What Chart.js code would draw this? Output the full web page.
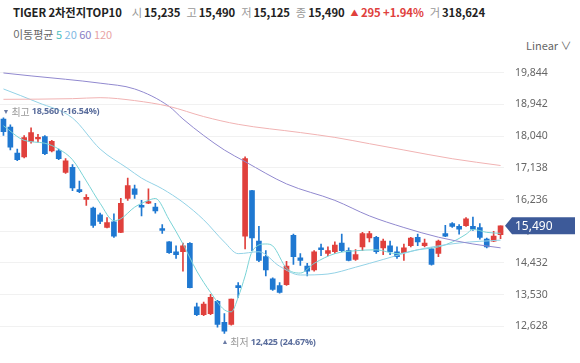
<!DOCTYPE html>
<html>
<head>
<meta charset="utf-8">
<script src="https://cdn.jsdelivr.net/npm/chart.js@4.4.1/dist/chart.umd.min.js"></script>
<style>
  body { margin: 0; background: #fff; font-family: "Noto Sans CJK KR", "Noto Sans", sans-serif; }
  #wrap { position: relative; width: 580px; height: 363px; overflow: hidden; }
  #head { position: absolute; left: 13px; top: 4px; font-size: 11.3px; white-space: nowrap; color: #222; letter-spacing: -0.1px; }
  #head b { font-weight: 700; }
  #head .k { color: #999; font-weight: 400; margin: 0 2px 0 6px; }
  #head .k.first { margin-left: 10px; }
  #head .up { color: #e0403c; font-weight: 700; margin-left: 6px; }
  #head .tri { font-size: 8px; position: relative; top: -1px; }
  #ma { position: absolute; left: 13px; top: 26px; font-size: 11px; color: #666; white-space: nowrap; }
  #lin { position: absolute; left: 526px; top: 37px; font-size: 11px; color: #666; }
  canvas { position: absolute; left: 0; top: 0; }
</style>
</head>
<body>
<div id="wrap">
  <div id="head"><b>TIGER 2차전지TOP10</b><span class="k first">시</span><b>15,235</b><span class="k">고</span><b>15,490</b><span class="k">저</span><b>15,125</b><span class="k">종</span><b>15,490</b><span class="up"><span class="tri">▲</span> 295 +1.94%</span><span class="k">거</span><b>318,624</b></div>
  <div id="ma">이동평균 <span style="color:#4dbfbf">5</span> <span style="color:#7fb9e3">20</span> <span style="color:#8a80c6">60</span> <span style="color:#e9a3a3">120</span></div>
  <div id="lin">Linear &#8744;</div>
  <canvas id="myChart" width="580" height="363"></canvas>
</div>
<script>
// daily candles, oldest first
const opens = [18530,18300,17560,17450,17890,17960,18030,17620,17620,17010,
  17150,16520,16240,15990,15800,15440,15600,15300,16270,16540,
  16070,16130,16020,15410,15030,14750,14750,14990,13180,12960,
  12990,13340,12740,12680,13790,15190,16490,15050,14610,13980,
  13790,13810,15220,14580,14340,14230,14860,14700,14750,15000,
  14780,14530,14890,15140,15160,14860,14920,14750,14720,14920,
  15160,14920,14830,14700,15270,15550,15470,15490,15470,15440,
  15110,15050,15235];
const highs = [18560,18360,17670,18060,18280,18090,18060,17920,17670,17400,
  17230,16760,16380,16020,15850,15720,15830,16270,16850,16650,
  16210,16540,16130,15520,15040,14920,15000,15010,13290,13320,
  13540,13370,12990,13400,13870,17450,16500,15470,14780,14010,
  13870,14480,15250,14700,14420,14780,14970,14890,15030,15250,
  14860,14810,15300,15330,15190,15110,15050,14890,14970,15160,
  15250,15110,14860,15080,15500,15580,15520,15720,15740,15550,
  15140,15330,15490];
const lows = [18060,17650,17340,17420,17840,17870,17510,17590,17370,16980,
  16490,16430,16070,15440,15550,15430,15160,15290,16210,16270,
  15770,16120,15850,15270,14700,14560,14200,13720,12930,12930,
  12960,12600,12425,12660,13450,14830,14780,14470,14060,13650,
  13570,13790,14390,14360,14060,14200,14640,14640,14700,14750,
  14490,14500,14780,15030,14700,14670,14670,14560,14500,14890,
  14920,14890,14370,14610,15180,15440,15250,15470,15360,15110,
  14860,15040,15125];
const closes = [18170,17730,17370,18000,18140,18010,17540,17890,17400,17340,
  16570,16460,16300,15500,15610,15580,15190,16130,16630,16380,
  16020,16180,15910,15360,14720,14670,14920,13730,12960,13260,
  13450,12680,12490,13400,13730,17400,15140,14500,14230,13680,
  13590,14340,14610,14500,14200,14750,14810,14780,14940,14780,
  14500,14670,15270,15270,14750,15050,14750,14610,14860,15140,
  15030,15000,14390,15050,15190,15470,15390,15690,15390,15160,
  14890,15195,15490];

// moving averages as [candle index, value]
const ma5 = [[0,18336],[3,17922],[6,17839],[8,17674],[10,17370],[12,16764],[14,16129],
  [16,15633],[17,15688],[19,16019],[21,16212],[22,16267],[24,15660],[26,14971],[28,14199],
  [30,13592],[32,13096],[33,13040],[34,13454],[35,14061],[36,14750],[38,14971],[39,14916],
  [41,14281],[43,14143],[45,14419],[48,14695],[51,14778],[54,14805],[57,14695],[60,14805],
  [63,14888],[65,15026],[67,15247],[68,15385],[70,15302],[72,15274]];
const ma20 = [[0,19384],[5,18998],[10,18557],[14,17674],[18,17122],[20,16847],[23,16543],
  [26,16157],[29,15660],[32,15026],[34,14695],[37,14750],[40,14337],[43,14088],[47,14116],
  [51,14309],[55,14530],[60,14805],[66,14999],[72,15081]];
const ma60 = [[0,19839],[4,19756],[9,19660],[14,19549],[19,19384],[24,18887],[26,18529],
  [29,18060],[32,17646],[35,17315],[41,16681],[48,16212],[53,15771],[58,15440],[63,15164],
  [68,14971],[72,14861]];
const ma120 = [[0,19089],[5,19094],[10,19108],[14,19136],[19,19053],[24,18887],[29,18598],
  [34,18377],[43,18143],[48,18005],[53,17826],[58,17646],[65,17398],[72,17205]];

const yTicks = [12628,13530,14432,15334,16236,17138,18040,18942,19844];

const UP = "#e0403c", DOWN = "#1f78d1";
const labels = closes.map((c, i) => String(i));
const colors = closes.map((c, i) => (c >= opens[i] ? UP : DOWN));

function spread(pairs) {
  const arr = new Array(closes.length).fill(null);
  pairs.forEach(p => { arr[p[0]] = p[1]; });
  return arr;
}
function maLine(pairs, color) {
  return {
    type: "line", data: spread(pairs), borderColor: color, borderWidth: 1,
    pointRadius: 0, spanGaps: true, cubicInterpolationMode: "monotone", order: 0
  };
}

const overlay = {
  id: "overlay",
  afterDraw(chart) {
    const c = chart.ctx, x = chart.scales.x, y = chart.scales.y;
    const last = closes[closes.length - 1];
    // high / low markers
    let hi = 0, lo = 0;
    highs.forEach((h, i) => { if (h > highs[hi]) hi = i; });
    lows.forEach((l, i) => { if (l < lows[lo]) lo = i; });
    const fmt = v => v.toLocaleString("en-US");
    const pct = v => ((last - v) / v * 100).toFixed(2) + "%";
    function mark(tri, word, val, px, py) {
      c.save();
      c.textBaseline = "middle";
      let cx = px;
      c.font = "7px 'Noto Sans'";
      c.fillStyle = "#6a7ba5";
      c.fillText(tri, cx, py);
      cx += c.measureText(tri).width + 2;
      c.font = "10px 'Noto Sans CJK KR'";
      c.fillStyle = "#999";
      c.fillText(word, cx, py);
      cx += c.measureText(word).width + 2;
      c.font = "bold 9px 'Noto Sans'";
      c.letterSpacing = "-0.2px";
      c.fillStyle = "#5a6d9c";
      c.fillText(fmt(val) + " (" + pct(val) + ")", cx, py);
      c.restore();
    }
    mark("▼", "최고", highs[hi], x.getPixelForValue(hi) - 1, y.getPixelForValue(highs[hi]) - 6);
    mark("▲", "최저", lows[lo], x.getPixelForValue(lo) - 3, y.getPixelForValue(lows[lo]) + 9);
    // last price tag
    const ty = y.getPixelForValue(last);
    const left = chart.chartArea.right + 1;
    c.save();
    c.fillStyle = "#3d5a99";
    c.beginPath();
    c.moveTo(left, ty);
    c.lineTo(left + 7, ty - 8.5);
    c.lineTo(575, ty - 8.5);
    c.lineTo(575, ty + 8.5);
    c.lineTo(left + 7, ty + 8.5);
    c.closePath();
    c.fill();
    c.fillStyle = "#fff";
    c.font = "12px 'Noto Sans'";
    c.textBaseline = "middle";
    c.fillText(fmt(last), left + 10, ty + 0.5);
    c.restore();
  }
};

new Chart(document.getElementById("myChart"), {
  type: "bar",
  data: {
    labels: labels,
    datasets: [
      maLine(ma120, "#f1b3b3"),
      maLine(ma60, "#9189cf"),
      maLine(ma20, "#93d2e6"),
      maLine(ma5, "#79d3d6"),
      {
        label: "wick", data: lows.map((l, i) => [l, highs[i]]),
        backgroundColor: colors, barThickness: 1, grouped: false, order: 2
      },
      {
        label: "body", data: opens.map((o, i) => [o, closes[i]]),
        backgroundColor: colors, barThickness: 5, grouped: false, order: 1, minBarLength: 1
      }
    ]
  },
  options: {
    responsive: false,
    animation: false,
    layout: { padding: { top: 57, bottom: 8, left: 0, right: 0 } },
    plugins: { legend: { display: false }, tooltip: { enabled: false } },
    scales: {
      x: { display: false, offset: true },
      y: {
        position: "right",
        min: 12075, max: 20294,
        afterBuildTicks: s => { s.ticks = yTicks.map(v => ({ value: v })); },
        afterFit: s => { s.width = 76; },
        grid: { color: "#f1f1f1", drawTicks: false },
        border: { display: false },
        ticks: {
          padding: 11, color: "#666",
          font: { size: 10.5, family: "'Noto Sans'" },
          callback: v => v.toLocaleString("en-US")
        }
      }
    }
  },
  plugins: [overlay]
});
</script>
</body>
</html>
